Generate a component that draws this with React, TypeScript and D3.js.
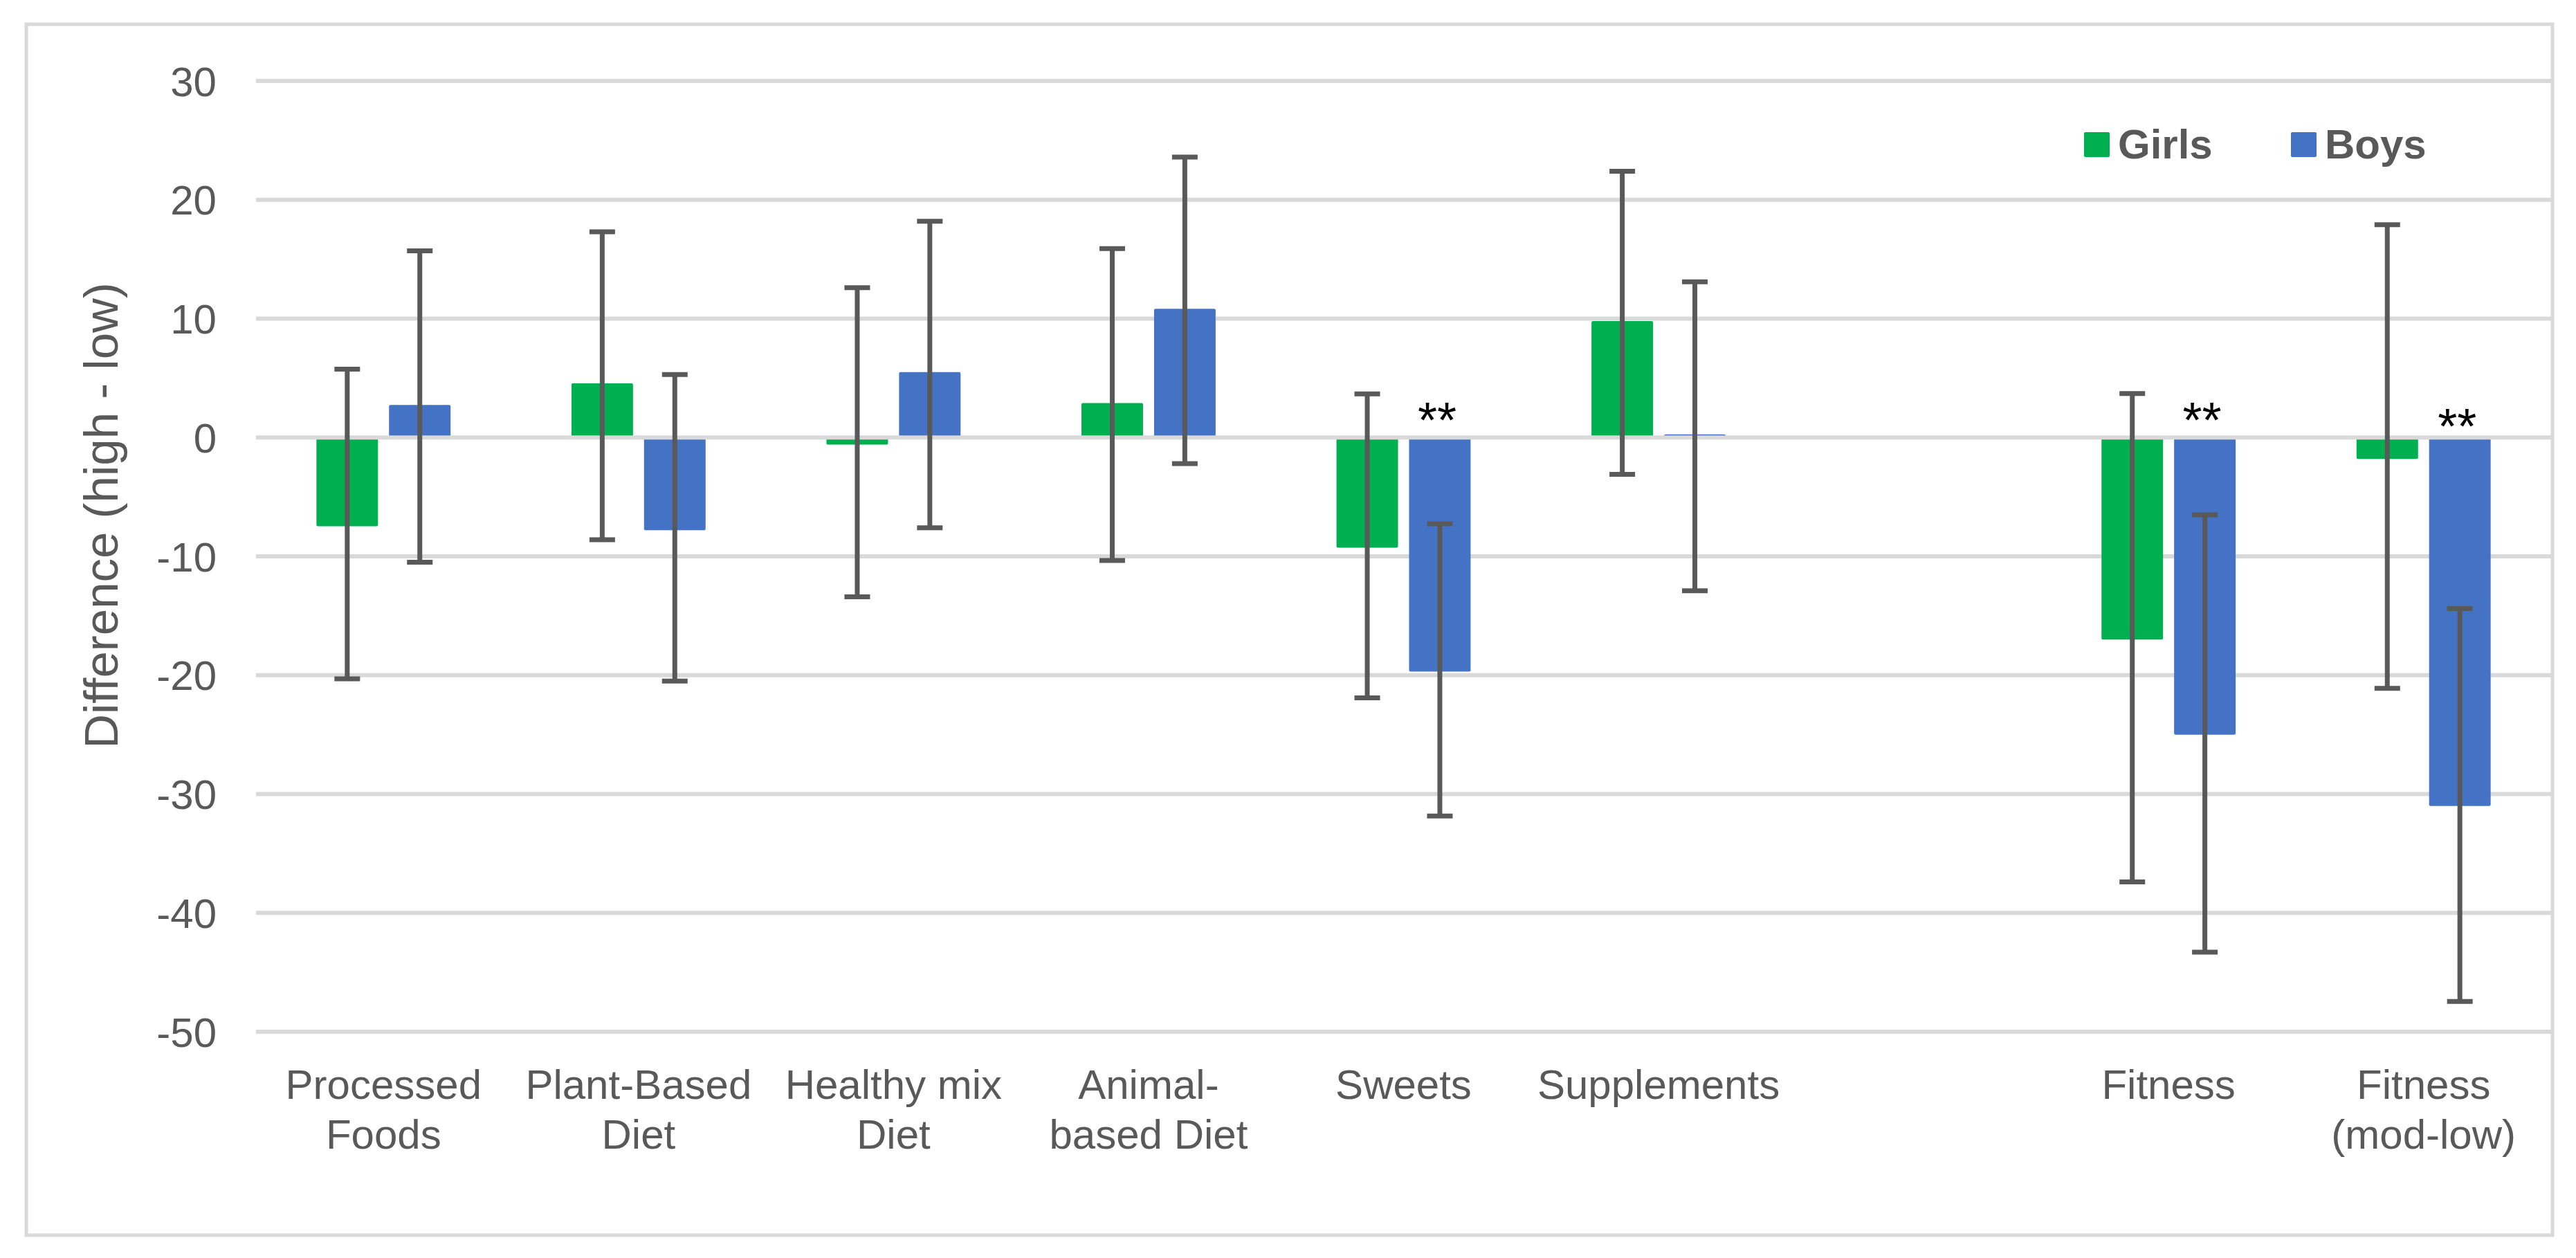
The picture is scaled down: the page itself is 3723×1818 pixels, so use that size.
import React, { useEffect, useRef } from "react";
import * as d3 from "d3";

const categories: string[][] = [
  ["Processed", "Foods"],
  ["Plant-Based", "Diet"],
  ["Healthy mix", "Diet"],
  ["Animal-", "based Diet"],
  ["Sweets"],
  ["Supplements"],
  [],
  ["Fitness"],
  ["Fitness", "(mod-low)"],
];

const seriesNames = ["Girls", "Boys"];
const seriesColors = ["#00B050", "#4472C4"];

const girlsValues: (number | null)[] = [-7.46, 4.56, -0.6, 2.9, -9.27, 9.8, null, -17.0, -1.8];
const girlsUpper: (number | null)[] = [5.75, 17.3, 12.6, 15.9, 3.67, 22.4, null, 3.7, 17.9];
const girlsLower: (number | null)[] = [-20.3, -8.6, -13.4, -10.35, -21.9, -3.1, null, -37.4, -21.1];

const boysValues: (number | null)[] = [2.74, -7.8, 5.5, 10.83, -19.7, 0.26, null, -25.0, -31.0];
const boysUpper: (number | null)[] = [15.7, 5.3, 18.2, 23.6, -7.27, 13.1, null, -6.5, -14.4];
const boysLower: (number | null)[] = [-10.5, -20.5, -7.6, -2.2, -31.85, -12.9, null, -43.3, -47.45];

const sigCategories = [4, 7, 8];
const sigLevels = [2.6, 2.6, 2.1];
const sigLabel = "**";

const yTicks = [30, 20, 10, 0, -10, -20, -30, -40, -50];
const yTitle = "Difference (high - low)";

const W = 3723;
const H = 1818;
const FONT = "'Liberation Sans', Arial, Helvetica, sans-serif";
const TEXT = "#595959";
const GRID = "#D9D9D9";

export default function App() {
  const ref = useRef<SVGSVGElement | null>(null);

  useEffect(() => {
    document.body.style.margin = "0";
    const svg = d3.select(ref.current);
    svg.selectAll("*").remove();

    const left = 370;
    const right = 3687;
    const top = 117;
    const bottom = 1491;

    const y = d3.scaleLinear().domain([-50, 30]).range([bottom, top]);
    const x0 = d3
      .scaleBand<number>()
      .domain(categories.map((_, i) => i))
      .range([left, right])
      .paddingInner(0.474)
      .paddingOuter(0.237);
    const x1 = d3
      .scaleBand<string>()
      .domain(seriesNames)
      .range([0, x0.bandwidth()])
      .paddingInner(0.152);

    // background
    svg.append("rect").attr("x", 0).attr("y", 0).attr("width", W).attr("height", H).attr("fill", "#fff");
    // chart border
    svg
      .append("rect")
      .attr("x", 38)
      .attr("y", 35)
      .attr("width", 3651)
      .attr("height", 1750)
      .attr("fill", "none")
      .attr("stroke", GRID)
      .attr("stroke-width", 5);

    // gridlines
    const grid = svg.append("g");
    yTicks
      .filter((t) => t !== 0)
      .forEach((t) => {
        grid
          .append("line")
          .attr("x1", left)
          .attr("x2", right)
          .attr("y1", y(t))
          .attr("y2", y(t))
          .attr("stroke", GRID)
          .attr("stroke-width", 6);
      });

    // y tick labels
    const yAxis = svg.append("g");
    yTicks.forEach((t) => {
      yAxis
        .append("text")
        .attr("x", 313)
        .attr("y", y(t))
        .attr("dy", "0.36em")
        .attr("text-anchor", "end")
        .attr("font-family", FONT)
        .attr("font-size", 60)
        .attr("fill", TEXT)
        .text(String(t));
    });

    // y title
    svg
      .append("text")
      .attr("transform", `translate(170, 745) rotate(-90)`)
      .attr("text-anchor", "middle")
      .attr("font-family", FONT)
      .attr("font-size", 69)
      .attr("fill", TEXT)
      .text(yTitle);

    const series = [
      { name: seriesNames[0], color: seriesColors[0], v: girlsValues, hi: girlsUpper, lo: girlsLower },
      { name: seriesNames[1], color: seriesColors[1], v: boysValues, hi: boysUpper, lo: boysLower },
    ];

    // bars
    const bars = svg.append("g");
    series.forEach((s) => {
      s.v.forEach((val, i) => {
        if (val === null) return;
        const bx = (x0(i) as number) + (x1(s.name) as number);
        bars
          .append("rect")
          .attr("x", bx)
          .attr("y", Math.min(y(val), y(0)))
          .attr("width", x1.bandwidth())
          .attr("height", Math.max(1.5, Math.abs(y(val) - y(0))))
          .attr("rx", 2)
          .attr("fill", s.color);
      });
    });

    // zero line
    svg
      .append("line")
      .attr("x1", left)
      .attr("x2", right)
      .attr("y1", y(0))
      .attr("y2", y(0))
      .attr("stroke", GRID)
      .attr("stroke-width", 6);

    // error bars
    const err = svg.append("g").attr("stroke", "#595959").attr("stroke-width", 7);
    const cap = 37;
    series.forEach((s) => {
      s.v.forEach((val, i) => {
        if (val === null) return;
        const hi = s.hi[i] as number;
        const lo = s.lo[i] as number;
        const cx = (x0(i) as number) + (x1(s.name) as number) + x1.bandwidth() / 2;
        err.append("line").attr("x1", cx).attr("x2", cx).attr("y1", y(hi)).attr("y2", y(lo));
        err.append("line").attr("x1", cx - cap / 2).attr("x2", cx + cap / 2).attr("y1", y(hi)).attr("y2", y(hi));
        err.append("line").attr("x1", cx - cap / 2).attr("x2", cx + cap / 2).attr("y1", y(lo)).attr("y2", y(lo));
      });
    });

    // significance markers
    sigCategories.forEach((ci, k) => {
      const cx = (x0(ci) as number) + (x1("Boys") as number) + x1.bandwidth() / 2;
      svg
        .append("text")
        .attr("x", cx - 4)
        .attr("y", y(sigLevels[k]))
        .attr("dy", "0.62em")
        .attr("text-anchor", "middle")
        .attr("font-family", FONT)
        .attr("font-size", 72)
        .attr("fill", "#000")
        .text(sigLabel);
    });

    // category labels
    const xl = svg.append("g");
    categories.forEach((lines, i) => {
      const cx = (x0(i) as number) + x0.bandwidth() / 2;
      lines.forEach((ln, j) => {
        xl.append("text")
          .attr("x", cx)
          .attr("y", 1588 + j * 72)
          .attr("text-anchor", "middle")
          .attr("font-family", FONT)
          .attr("font-size", 60)
          .attr("fill", TEXT)
          .text(ln);
      });
    });

    // legend
    const legendX = [3012, 3311];
    const lg = svg.append("g");
    series.forEach((s, k) => {
      lg.append("rect")
        .attr("x", legendX[k])
        .attr("y", 191)
        .attr("width", 37)
        .attr("height", 36)
        .attr("rx", 2)
        .attr("fill", s.color);
      lg.append("text")
        .attr("x", legendX[k] + 49)
        .attr("y", 229)
        .attr("font-family", FONT)
        .attr("font-size", 60)
        .attr("font-weight", "bold")
        .attr("fill", TEXT)
        .text(s.name);
    });
  }, []);

  return <svg ref={ref} width={W} height={H} style={{ display: "block" }} />;
}
